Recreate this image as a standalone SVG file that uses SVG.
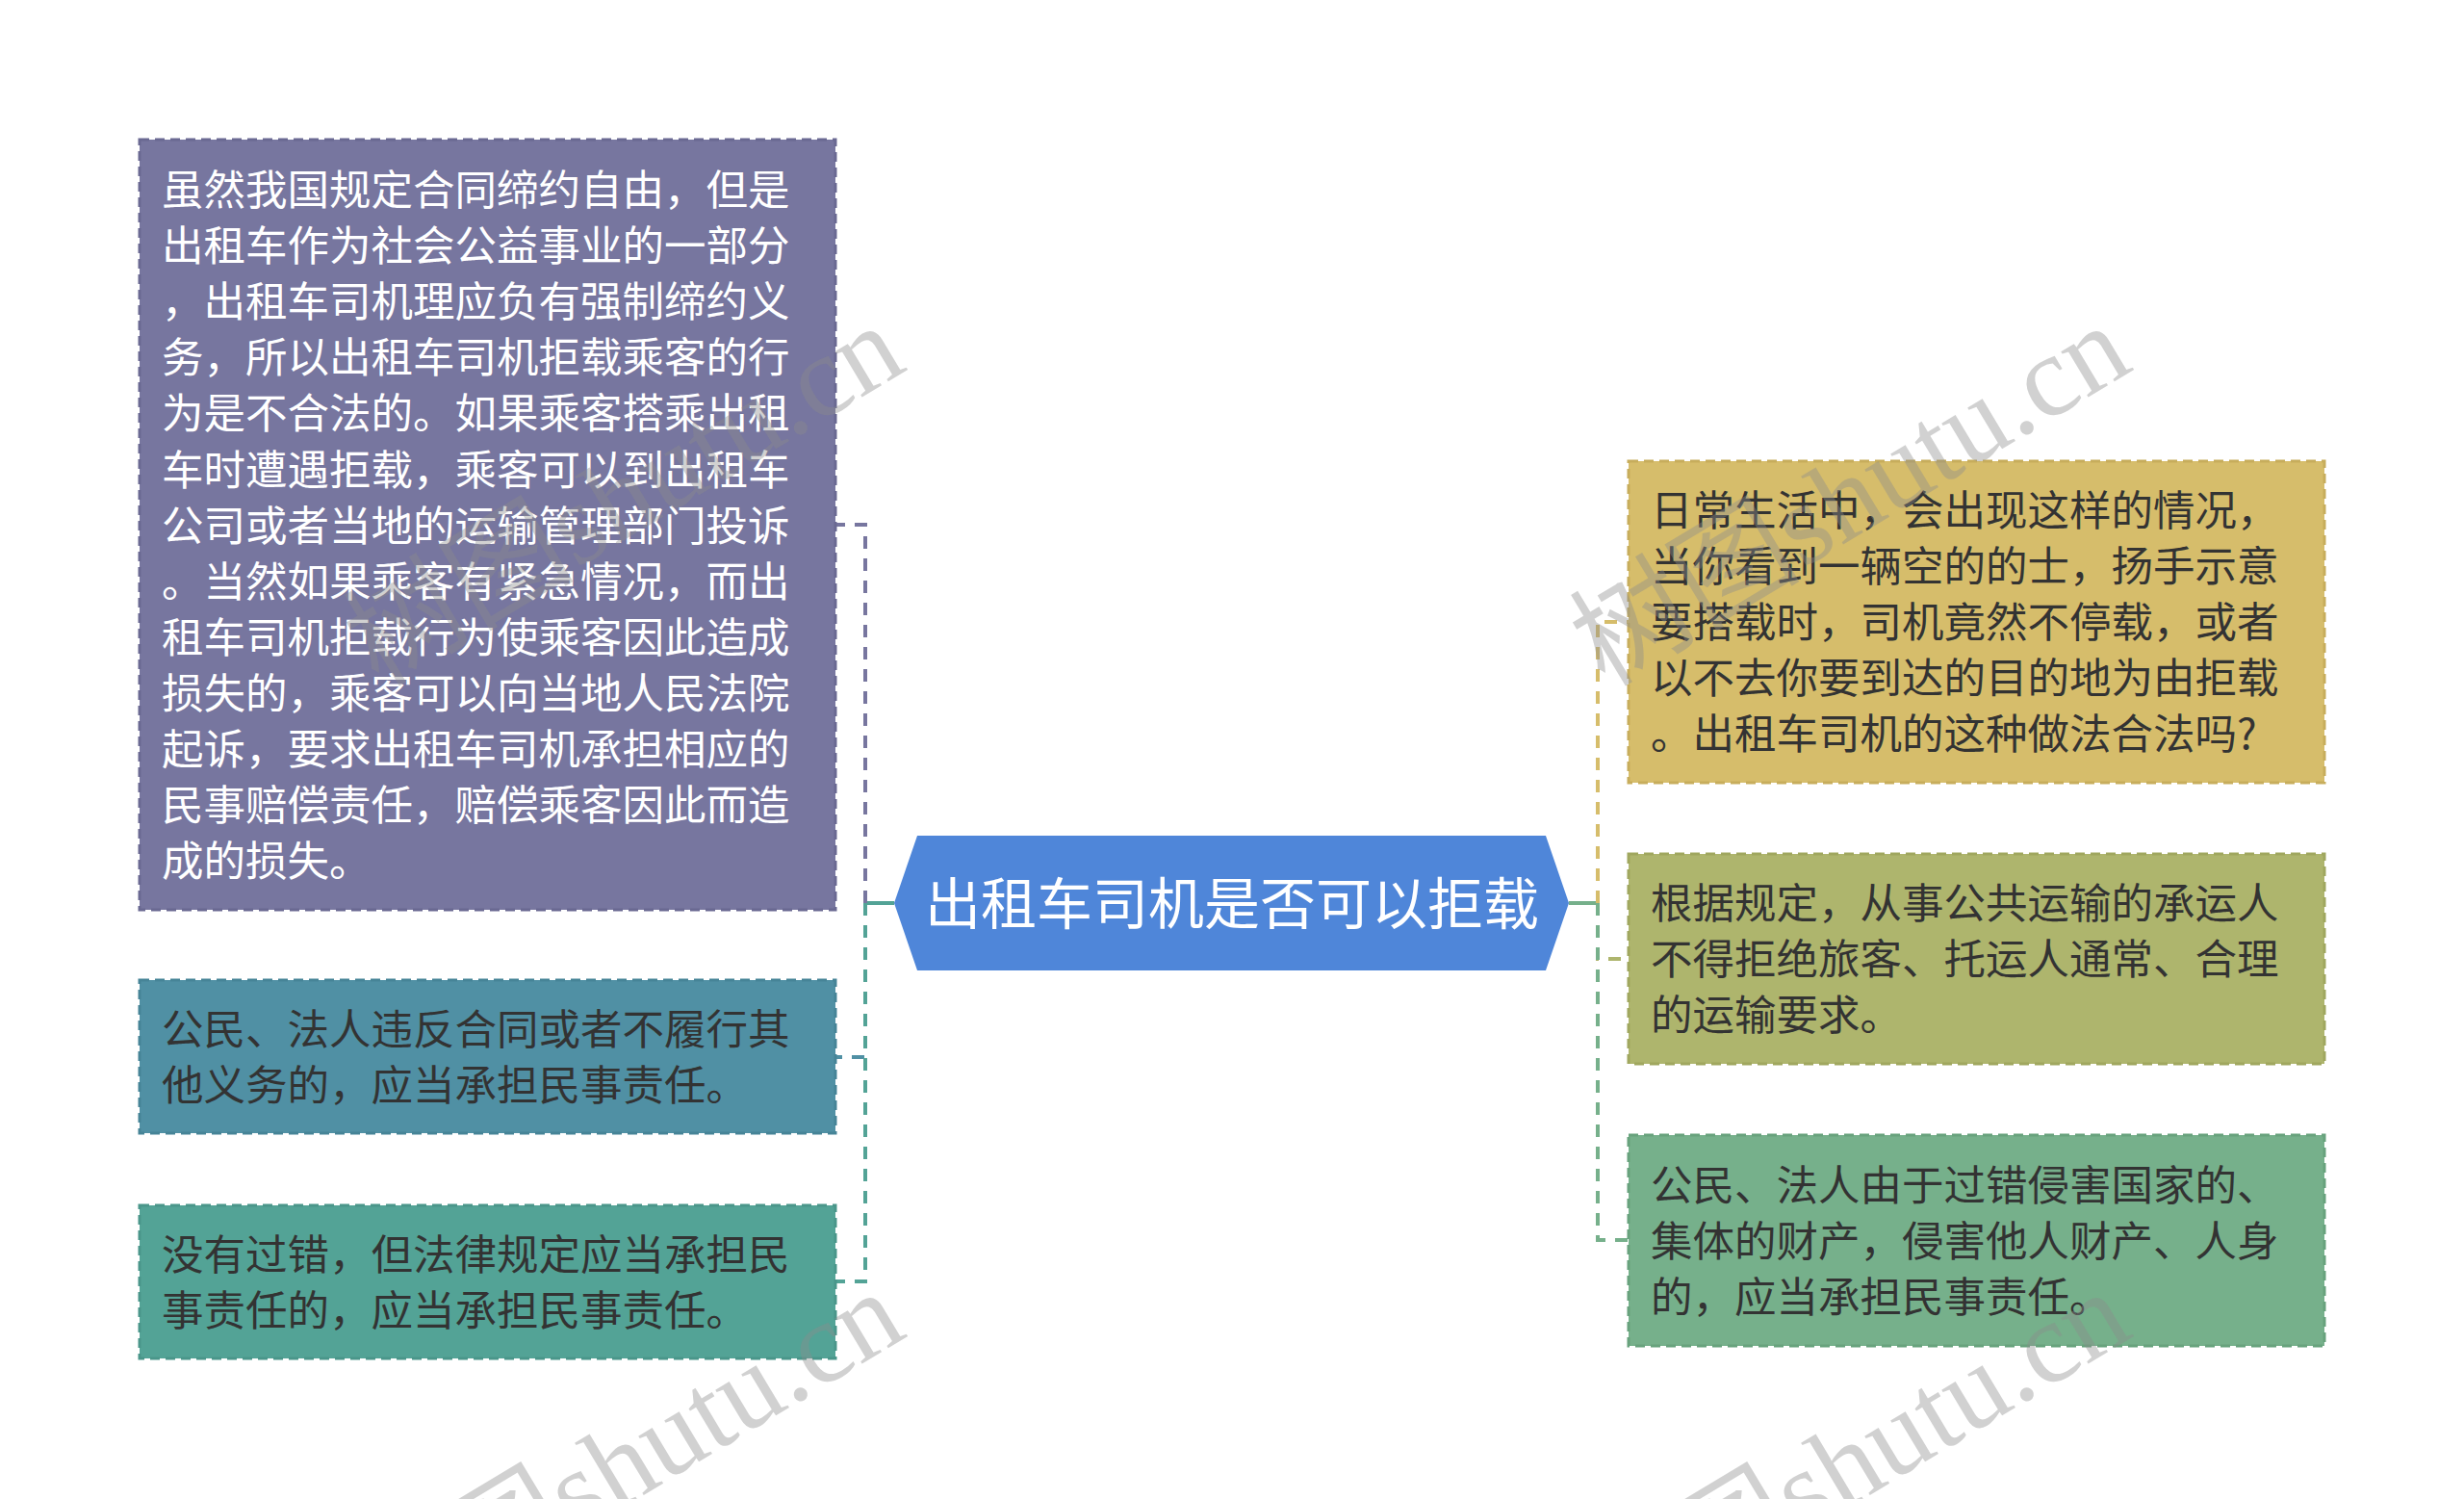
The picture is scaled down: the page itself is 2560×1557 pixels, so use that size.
<svg xmlns="http://www.w3.org/2000/svg" width="2560" height="1557" viewBox="0 0 2560 1557">
<style>
.box{stroke-width:3;stroke-dasharray:10 6}
.t{font-family:"Noto Sans CJK SC","Noto Sans",sans-serif;font-size:43.5px;fill:#333333}
.tw{fill:#ffffff}
.c{fill:none;stroke-width:4;stroke-dasharray:13 10}
.s{fill:none;stroke-width:4}
.wm{font-family:"Liberation Serif","Noto Sans CJK SC",serif;font-size:120px;fill:#8c8c8c;fill-opacity:0.4}
</style>
<rect width="2560" height="1557" fill="#ffffff"/>
<g id="connectors">
  <path class="s" d="M929 938 H899" stroke="#53a396"/>
  <path class="c" d="M899 938 V545 H868" stroke="#77769f"/>
  <path class="c" d="M899 938 V1098 H868" stroke="#5090a4"/>
  <path class="c" d="M899 938 V1331 H868" stroke="#53a396"/>
  <path class="s" d="M1630 938 H1660" stroke="#76b08b"/>
  <path class="c" d="M1660 938 V646 H1692" stroke="#d6bd6b"/>
  <path class="c" d="M1660 938 V996 H1692" stroke="#aeb56d"/>
  <path class="c" d="M1660 938 V1288 H1692" stroke="#76b08b"/>
</g>
<g id="center">
  <polygon points="929,938 953,868 1606,868 1630,938 1606,1008 953,1008" fill="#4f86d9"/>
  <text x="1280" y="960" text-anchor="middle" font-family="Noto Sans CJK SC, sans-serif" font-size="58" fill="#ffffff">出租车司机是否可以拒载</text>
</g>
<g id="node-l1">
  <rect class="box" x="145" y="145" width="723" height="800" fill="#77769f" stroke="#6a6992"/>
  <text class="t tw" x="168">
    <tspan x="168" y="213">虽然我国规定合同缔约自由，但是</tspan>
    <tspan x="168" y="271.1">出租车作为社会公益事业的一部分</tspan>
    <tspan x="168" y="329.2">，出租车司机理应负有强制缔约义</tspan>
    <tspan x="168" y="387.3">务，所以出租车司机拒载乘客的行</tspan>
    <tspan x="168" y="445.4">为是不合法的。如果乘客搭乘出租</tspan>
    <tspan x="168" y="503.5">车时遭遇拒载，乘客可以到出租车</tspan>
    <tspan x="168" y="561.6">公司或者当地的运输管理部门投诉</tspan>
    <tspan x="168" y="619.7">。当然如果乘客有紧急情况，而出</tspan>
    <tspan x="168" y="677.8">租车司机拒载行为使乘客因此造成</tspan>
    <tspan x="168" y="735.9">损失的，乘客可以向当地人民法院</tspan>
    <tspan x="168" y="794">起诉，要求出租车司机承担相应的</tspan>
    <tspan x="168" y="852.1">民事赔偿责任，赔偿乘客因此而造</tspan>
    <tspan x="168" y="910.2">成的损失。</tspan>
  </text>
</g>
<g id="node-l2">
  <rect class="box" x="145" y="1018" width="723" height="159" fill="#5090a4" stroke="#468497"/>
  <text class="t" x="168">
    <tspan x="168" y="1085">公民、法人违反合同或者不履行其</tspan>
    <tspan x="168" y="1143">他义务的，应当承担民事责任。</tspan>
  </text>
</g>
<g id="node-l3">
  <rect class="box" x="145" y="1252" width="723" height="159" fill="#53a396" stroke="#4a968a"/>
  <text class="t" x="168">
    <tspan x="168" y="1318.5">没有过错，但法律规定应当承担民</tspan>
    <tspan x="168" y="1376.6">事责任的，应当承担民事责任。</tspan>
  </text>
</g>
<g id="node-r1">
  <rect class="box" x="1692" y="479" width="723" height="334" fill="#d6bd6b" stroke="#c7ad5c"/>
  <text class="t" x="1715">
    <tspan x="1715" y="546">日常生活中，会出现这样的情况，</tspan>
    <tspan x="1715" y="604">当你看到一辆空的的士，扬手示意</tspan>
    <tspan x="1715" y="662">要搭载时，司机竟然不停载，或者</tspan>
    <tspan x="1715" y="720">以不去你要到达的目的地为由拒载</tspan>
    <tspan x="1715" y="778">。出租车司机的这种做法合法吗?</tspan>
  </text>
</g>
<g id="node-r2">
  <rect class="box" x="1692" y="887" width="723" height="218" fill="#aeb56d" stroke="#a0a75f"/>
  <text class="t" x="1715">
    <tspan x="1715" y="954">根据规定，从事公共运输的承运人</tspan>
    <tspan x="1715" y="1012">不得拒绝旅客、托运人通常、合理</tspan>
    <tspan x="1715" y="1070">的运输要求。</tspan>
  </text>
</g>
<g id="node-r3">
  <rect class="box" x="1692" y="1179" width="723" height="219" fill="#76b08b" stroke="#68a27d"/>
  <text class="t" x="1715">
    <tspan x="1715" y="1246.5">公民、法人由于过错侵害国家的、</tspan>
    <tspan x="1715" y="1304.5">集体的财产，侵害他人财产、人身</tspan>
    <tspan x="1715" y="1362.6">的，应当承担民事责任。</tspan>
  </text>
</g>
<g id="watermarks">
  <text class="wm" x="648" y="514" text-anchor="middle" dominant-baseline="central" transform="rotate(-31 648 514)">树图shutu.cn</text>
  <text class="wm" x="1922" y="514" text-anchor="middle" dominant-baseline="central" transform="rotate(-31 1922 514)">树图shutu.cn</text>
  <text class="wm" x="648" y="1518" text-anchor="middle" dominant-baseline="central" transform="rotate(-31 648 1518)">树图shutu.cn</text>
  <text class="wm" x="1922" y="1518" text-anchor="middle" dominant-baseline="central" transform="rotate(-31 1922 1518)">树图shutu.cn</text>
</g>
</svg>
